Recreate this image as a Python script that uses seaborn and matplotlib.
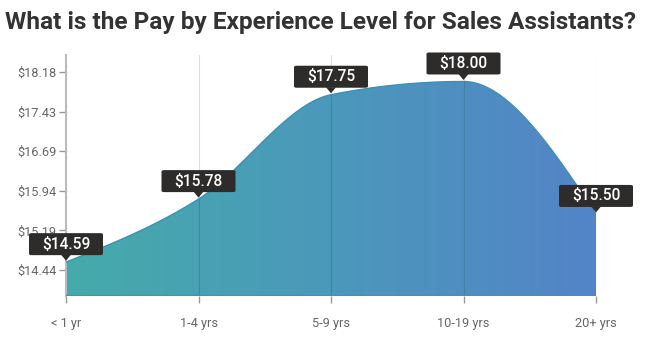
import numpy as np
import pandas as pd
import matplotlib
matplotlib.use("Agg")
import matplotlib.pyplot as plt
import seaborn as sns
from matplotlib.colors import LinearSegmentedColormap
from matplotlib.patches import Polygon, FancyBboxPatch

categories = ["< 1 yr", "1-4 yrs", "5-9 yrs", "10-19 yrs", "20+ yrs"]
pay = [14.59, 15.78, 17.75, 18.00, 15.50]
pay_labels = ["$14.59", "$15.78", "$17.75", "$18.00", "$15.50"]
ytick_values = [14.44, 15.19, 15.94, 16.69, 17.43, 18.18]
ytick_labels = ["$14.44", "$15.19", "$15.94", "$16.69", "$17.43", "$18.18"]
title = "What is the Pay by Experience Level for Sales Assistants?"

sns.set_theme(style="white")
plt.rcParams["font.family"] = ["Roboto", "DejaVu Sans"]


def monotone_curve(xs, ys, n=40):
    xs = np.asarray(xs, float); ys = np.asarray(ys, float)
    h = np.diff(xs); s = np.diff(ys) / h
    m = np.zeros(len(xs))
    for i in range(1, len(xs) - 1):
        p = (s[i - 1] * h[i] + s[i] * h[i - 1]) / (h[i - 1] + h[i])
        m[i] = (np.sign(s[i - 1]) + np.sign(s[i])) * min(abs(s[i - 1]), abs(s[i]), 0.5 * abs(p))
    m[0] = (3 * s[0] - m[1]) / 2
    m[-1] = (3 * s[-1] - m[-2]) / 2
    X, Y = [], []
    for i in range(len(xs) - 1):
        t = np.linspace(0, 1, n, endpoint=(i == len(xs) - 2))
        dx = h[i] / 3
        p0 = (xs[i], ys[i]); p1 = (xs[i] + dx, ys[i] + m[i] * dx)
        p2 = (xs[i + 1] - dx, ys[i + 1] - m[i + 1] * dx); p3 = (xs[i + 1], ys[i + 1])
        b = [(1 - t) ** 3, 3 * (1 - t) ** 2 * t, 3 * (1 - t) * t ** 2, t ** 3]
        X.append(b[0] * p0[0] + b[1] * p1[0] + b[2] * p2[0] + b[3] * p3[0])
        Y.append(b[0] * p0[1] + b[1] * p1[1] + b[2] * p2[1] + b[3] * p3[1])
    return np.concatenate(X), np.concatenate(Y)


xpos = np.arange(len(categories))
cx, cy = monotone_curve(xpos, pay)
curve = pd.DataFrame({"x": cx, "y": cy})

fig = plt.figure(figsize=(6.55, 3.38), dpi=100)
ax = fig.add_axes([66 / 655, 1 - 296 / 338, 530 / 655, 241 / 338])
ymin, ymax = 13.951, 18.50
ax.set_xlim(0, len(categories) - 1)
ax.set_ylim(ymin, ymax)

cmap = LinearSegmentedColormap.from_list("g", ["#45abaa", "#4b98bb", "#5384c8"])
grad = np.linspace(0, 1, 256).reshape(1, -1)
im = ax.imshow(grad, cmap=cmap, aspect="auto", extent=[0, len(categories) - 1, ymin, ymax],
               origin="lower", zorder=1)
poly_pts = np.column_stack([np.r_[cx, cx[-1], cx[0]], np.r_[cy, ymin, ymin]])
poly = Polygon(poly_pts, closed=True, facecolor="none", edgecolor="none", transform=ax.transData)
ax.add_patch(poly)
im.set_clip_path(poly)

# vertical gridlines: light outside the area, darker inside
for x in xpos:
    ax.axvline(x, color="#dddddd", lw=0.8, zorder=0.5)
    ln = ax.axvline(x, color="#2f6f86", lw=0.8, alpha=0.45, zorder=2)
    ln.set_clip_path(poly)

# outline of area
sns.lineplot(data=curve, x="x", y="y", ax=ax, color="#3f8fb0", linewidth=1.0, zorder=3,
             sort=False, estimator=None)
ax.plot([cx[-1], cx[-1]], [cy[-1], ymin], color="#4f80c4", lw=1.0, zorder=3)
ax.plot([cx[0], cx[-1]], [ymin + 0.01, ymin + 0.01], color="#4a8fb8", lw=1.0, zorder=3)

ax.set_xlabel("")
ax.set_ylabel("")
ax.set_yticks(ytick_values)
ax.set_yticklabels(ytick_labels)
ax.set_xticks(xpos)
ax.set_xticklabels(categories)
ax.tick_params(axis="y", length=5, width=1, color="#999999", labelcolor="#666666",
               labelsize=9.2, pad=2, left=True)
ax.tick_params(axis="x", length=5, width=1, color="#999999", labelcolor="#666666",
               labelsize=9.2, pad=10, bottom=True)
for sp in ["top", "right", "bottom"]:
    ax.spines[sp].set_visible(False)
ax.spines["left"].set_color("#bbbbbb")
ax.spines["left"].set_linewidth(1.5)
ax.grid(False)

# tooltips
inv = fig.transFigure.inverted()
for x, y, lab in zip(xpos, pay, pay_labels):
    dpx, dpy = ax.transData.transform((x, y))
    bw, bh = 74, 22
    gap = 7
    bx0 = dpx - bw / 2
    by0 = dpy + gap
    (fx0, fy0) = inv.transform((bx0, by0))
    (fx1, fy1) = inv.transform((bx0 + bw, by0 + bh))
    box = FancyBboxPatch((fx0, fy0), fx1 - fx0, fy1 - fy0,
                         boxstyle="round,pad=0,rounding_size=0.004",
                         transform=fig.transFigure, facecolor="#2e2b2b", edgecolor="none",
                         zorder=10, clip_on=False)
    fig.add_artist(box)
    tri = np.array([[dpx - 5, by0 + 0.5], [dpx + 5, by0 + 0.5], [dpx, dpy + 1.5]])
    fig.add_artist(Polygon(inv.transform(tri), closed=True, transform=fig.transFigure,
                           facecolor="#2e2b2b", edgecolor="none", zorder=10, clip_on=False))
    fx, fy = inv.transform((dpx, by0 + bh / 2))
    fig.text(fx, fy, lab, ha="center", va="center", color="white", fontsize=11.2,
             fontweight="medium", zorder=11)

fig.text(5 / 655, 1 - 22 / 338, title, ha="left", va="center", fontsize=17.6,
         fontweight="bold", color="#333333")

fig.savefig("out.png", dpi=100)
